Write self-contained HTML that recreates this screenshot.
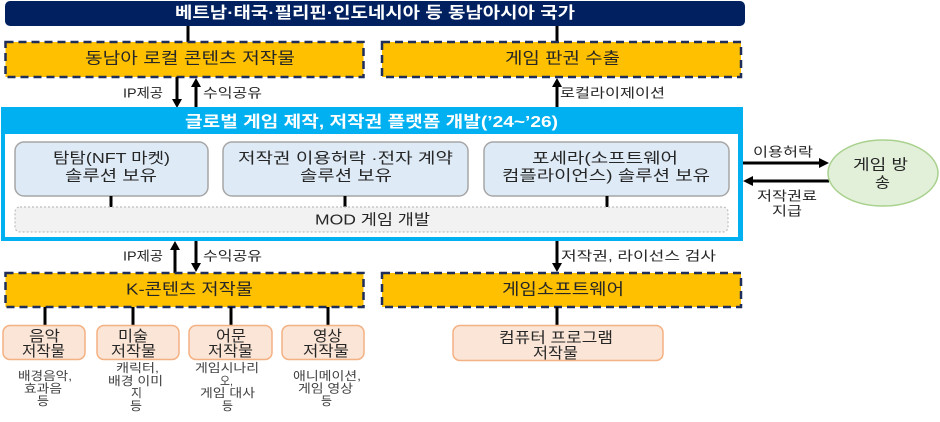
<!DOCTYPE html>
<html><head><meta charset="utf-8">
<style>
html,body{margin:0;padding:0;background:#fff;}
svg{display:block;}
text{font-family:"Liberation Sans","Noto Sans CJK KR",sans-serif;dominant-baseline:central;}
.w{fill:#fff;font-weight:bold;font-size:16px;}
.m{fill:#262626;font-size:16px;}
.s{fill:#262626;font-size:15px;}
.l{fill:#262626;font-size:13px;}
.d{fill:#404040;font-size:12px;}
.ln{stroke:#000;stroke-width:3;}
.yb{fill:#FFC000;stroke:#1F2D5A;stroke-width:2.5;stroke-dasharray:8 5;}
.ib{fill:#DEEBF7;stroke:#A6A6A6;stroke-width:1.5;}
.pb{fill:#FBE5D6;stroke:#F4B183;stroke-width:1.5;}
</style></head><body>
<svg width="940" height="422" viewBox="0 0 940 422" xmlns="http://www.w3.org/2000/svg">
<!-- navy bar -->
<rect x="5" y="1" width="740" height="25" rx="5" fill="#002060"/>
<text class="w" x="175" y="13.5" textLength="400" lengthAdjust="spacingAndGlyphs">베트남·태국·필리핀·인도네시아 등 동남아시아 국가</text>
<line class="ln" x1="188" y1="26" x2="188" y2="42"/>
<line class="ln" x1="557" y1="26" x2="557" y2="42"/>

<!-- top yellow -->
<rect class="yb" x="5.5" y="42" width="358" height="35"/>
<rect class="yb" x="382" y="42" width="359" height="35"/>
<text class="m" x="85" y="59" textLength="210" lengthAdjust="spacingAndGlyphs">동남아 로컬 콘텐츠 저작물</text>
<text class="m" x="505" y="59" textLength="115" lengthAdjust="spacingAndGlyphs">게임 판권 수출</text>

<!-- top arrows -->
<line class="ln" x1="177" y1="77" x2="177" y2="100"/>
<polygon points="172,99 182,99 177,108" fill="#000"/>
<line class="ln" x1="196" y1="86" x2="196" y2="108"/>
<polygon points="191,87 201,87 196,78" fill="#000"/>
<line class="ln" x1="557" y1="86" x2="557" y2="108"/>
<polygon points="552,87 562,87 557,78" fill="#000"/>
<text class="l" x="123" y="93" textLength="40" lengthAdjust="spacingAndGlyphs">IP제공</text>
<text class="l" x="203" y="93" textLength="59" lengthAdjust="spacingAndGlyphs">수익공유</text>
<text class="l" x="560" y="93" textLength="105" lengthAdjust="spacingAndGlyphs">로컬라이제이션</text>

<!-- blue box -->
<rect x="1" y="107" width="742" height="134" fill="#00B0F0"/>
<rect x="5" y="134" width="733" height="103" fill="#fff"/>
<text class="w" x="185" y="122.5" textLength="373" lengthAdjust="spacingAndGlyphs">글로벌 게임 제작, 저작권 플랫폼 개발(’24~’26)</text>

<rect class="ib" x="15" y="142" width="193" height="54" rx="9"/>
<rect class="ib" x="223" y="142" width="245" height="54" rx="9"/>
<rect class="ib" x="484" y="142" width="245" height="54" rx="9"/>
<text class="s" x="53" y="158.5" textLength="117" lengthAdjust="spacingAndGlyphs">탐탐(NFT 마켓)</text>
<text class="s" x="65" y="176" textLength="92" lengthAdjust="spacingAndGlyphs">솔루션 보유</text>
<text class="s" x="238" y="158.5" textLength="215" lengthAdjust="spacingAndGlyphs">저작권 이용허락 ·전자 계약</text>
<text class="s" x="300" y="176" textLength="92" lengthAdjust="spacingAndGlyphs">솔루션 보유</text>
<text class="s" x="532" y="158.5" textLength="146" lengthAdjust="spacingAndGlyphs">포세라(소프트웨어</text>
<text class="s" x="502" y="176" textLength="208" lengthAdjust="spacingAndGlyphs">컴플라이언스) 솔루션 보유</text>

<line class="ln" x1="111" y1="196" x2="111" y2="207"/>
<line class="ln" x1="345" y1="196" x2="345" y2="207"/>
<line class="ln" x1="607" y1="196" x2="607" y2="207"/>

<rect x="15" y="207" width="713" height="25" rx="5" fill="#F2F2F2" stroke="#BFBFBF" stroke-width="1.2" stroke-dasharray="2 2"/>
<text class="s" x="315" y="220" textLength="115" lengthAdjust="spacingAndGlyphs">MOD 게임 개발</text>

<!-- right arrows & ellipse -->
<line class="ln" x1="743" y1="163" x2="820" y2="163"/>
<polygon points="819,158 819,168 829,163" fill="#000"/>
<line class="ln" x1="752" y1="181" x2="829" y2="181"/>
<polygon points="753,176 753,186 743,181" fill="#000"/>
<text class="l" x="753" y="152" textLength="60" lengthAdjust="spacingAndGlyphs">이용허락</text>
<text class="l" x="757" y="196" textLength="60" lengthAdjust="spacingAndGlyphs">저작권료</text>
<text class="l" x="772" y="211" textLength="30" lengthAdjust="spacingAndGlyphs">지급</text>
<ellipse cx="883" cy="173" rx="55" ry="33" fill="#E2F0D9" stroke="#A9D18E" stroke-width="1.5"/>
<text class="s" x="853" y="165" textLength="55" lengthAdjust="spacingAndGlyphs">게임 방</text>
<text class="s" x="875" y="183" textLength="15" lengthAdjust="spacingAndGlyphs">송</text>

<!-- bottom arrows -->
<line class="ln" x1="175" y1="249" x2="175" y2="273"/>
<polygon points="170,250 180,250 175,241" fill="#000"/>
<line class="ln" x1="196" y1="241" x2="196" y2="264"/>
<polygon points="191,263 201,263 196,272" fill="#000"/>
<line class="ln" x1="557" y1="241" x2="557" y2="264"/>
<polygon points="552,263 562,263 557,272" fill="#000"/>
<text class="l" x="123" y="256" textLength="40" lengthAdjust="spacingAndGlyphs">IP제공</text>
<text class="l" x="203" y="256" textLength="59" lengthAdjust="spacingAndGlyphs">수익공유</text>
<text class="l" x="561" y="256" textLength="155" lengthAdjust="spacingAndGlyphs">저작권, 라이선스 검사</text>

<!-- bottom yellow -->
<rect class="yb" x="5.5" y="273" width="358" height="34"/>
<rect class="yb" x="382" y="273" width="359" height="34"/>
<text class="m" x="126" y="290" textLength="127" lengthAdjust="spacingAndGlyphs">K-콘텐츠 저작물</text>
<text class="m" x="502" y="290" textLength="122" lengthAdjust="spacingAndGlyphs">게임소프트웨어</text>

<line class="ln" x1="45" y1="307" x2="45" y2="326"/>
<line class="ln" x1="133" y1="307" x2="133" y2="326"/>
<line class="ln" x1="231" y1="307" x2="231" y2="326"/>
<line class="ln" x1="328" y1="307" x2="328" y2="326"/>
<line class="ln" x1="557" y1="307" x2="557" y2="326"/>

<!-- peach boxes -->
<rect class="pb" x="3" y="325.5" width="82" height="34" rx="7"/>
<rect class="pb" x="97" y="325.5" width="82" height="34" rx="7"/>
<rect class="pb" x="189" y="325.5" width="83" height="34" rx="7"/>
<rect class="pb" x="282" y="325.5" width="82" height="34" rx="7"/>
<rect class="pb" x="453" y="325.5" width="210" height="35" rx="7"/>

<text class="s" x="29" y="336.5" textLength="31" lengthAdjust="spacingAndGlyphs">음악</text>
<text class="s" x="22" y="351.5" textLength="43" lengthAdjust="spacingAndGlyphs">저작물</text>
<text class="s" x="118" y="336.5" textLength="30" lengthAdjust="spacingAndGlyphs">미술</text>
<text class="s" x="111" y="351.5" textLength="45" lengthAdjust="spacingAndGlyphs">저작물</text>
<text class="s" x="216" y="336.5" textLength="30" lengthAdjust="spacingAndGlyphs">어문</text>
<text class="s" x="208" y="351.5" textLength="45" lengthAdjust="spacingAndGlyphs">저작물</text>
<text class="s" x="313" y="336.5" textLength="29" lengthAdjust="spacingAndGlyphs">영상</text>
<text class="s" x="303" y="351.5" textLength="46" lengthAdjust="spacingAndGlyphs">저작물</text>
<text class="s" x="499" y="338" textLength="114" lengthAdjust="spacingAndGlyphs">컴퓨터 프로그램</text>
<text class="s" x="533" y="353.5" textLength="45" lengthAdjust="spacingAndGlyphs">저작물</text>

<!-- descriptions -->
<text class="d" x="18" y="376" textLength="54" lengthAdjust="spacingAndGlyphs">배경음악,</text>
<text class="d" x="24" y="388.5" textLength="38" lengthAdjust="spacingAndGlyphs">효과음</text>
<text class="d" x="37" y="401" textLength="12" lengthAdjust="spacingAndGlyphs">등</text>

<text class="d" x="116" y="368" textLength="43" lengthAdjust="spacingAndGlyphs">캐릭터,</text>
<text class="d" x="108" y="381" textLength="55" lengthAdjust="spacingAndGlyphs">배경 이미</text>
<text class="d" x="131" y="393" textLength="11" lengthAdjust="spacingAndGlyphs">지</text>
<text class="d" x="130" y="406" textLength="12" lengthAdjust="spacingAndGlyphs">등</text>

<text class="d" x="195" y="368" textLength="64" lengthAdjust="spacingAndGlyphs">게임시나리</text>
<text class="d" x="220" y="381" textLength="13" lengthAdjust="spacingAndGlyphs">오,</text>
<text class="d" x="200" y="393" textLength="55" lengthAdjust="spacingAndGlyphs">게임 대사</text>
<text class="d" x="222" y="406" textLength="11" lengthAdjust="spacingAndGlyphs">등</text>

<text class="d" x="293" y="376" textLength="68" lengthAdjust="spacingAndGlyphs">애니메이션,</text>
<text class="d" x="298" y="388.5" textLength="55" lengthAdjust="spacingAndGlyphs">게임 영상</text>
<text class="d" x="321" y="401" textLength="11" lengthAdjust="spacingAndGlyphs">등</text>
</svg>
</body></html>
